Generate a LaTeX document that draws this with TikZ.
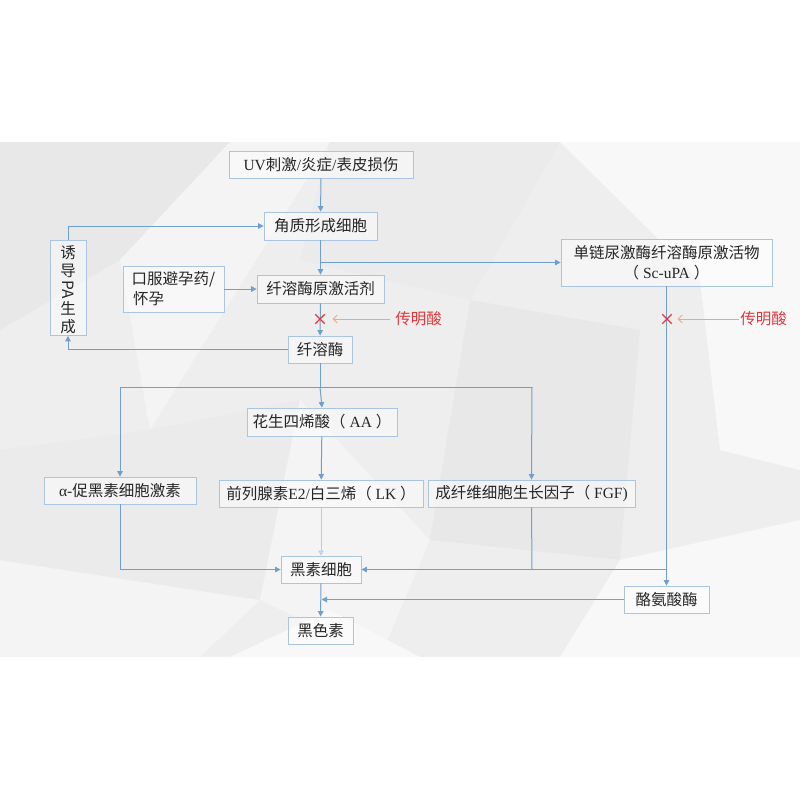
\documentclass[tikz,border=0pt]{standalone}
\usepackage{fontspec}
\setmainfont{Liberation Serif}
\newfontfamily\cjk{Noto Sans CJK SC}
\usetikzlibrary{arrows.meta,shapes.misc}
\definecolor{lnc}{HTML}{6E9FCF}
\definecolor{lnf}{HTML}{B5CDE4}
\definecolor{bxc}{HTML}{A9C5E2}
\definecolor{txc}{HTML}{262626}
\definecolor{redt}{HTML}{E0383C}
\definecolor{orng}{HTML}{F0A878}
\definecolor{bga}{HTML}{EEEEEE}
\definecolor{bgb}{HTML}{E8E8E8}
\definecolor{bgc}{HTML}{F4F4F4}
\definecolor{bgd}{HTML}{F8F8F8}
\definecolor{bge}{HTML}{EBEBEB}
\begin{document}
\begin{tikzpicture}[x=1pt,y=-1pt,
  box/.style={draw=bxc, line width=0.8pt, fill=white, fill opacity=0.45, text opacity=1,
    text=txc, inner sep=0pt, font=\fontsize{15.5}{19}\selectfont, align=center},
  conn/.style={draw=lnc, line width=1pt, -{Triangle[length=5.5pt,width=5.5pt]}},
  line/.style={draw=lnc, line width=1pt},
  faint/.style={draw=lnf, line width=1pt, -{Triangle[open,length=5pt,width=5pt]}},
  inh/.style={draw=orng, line width=0.8pt, -{Straight Barb[length=4pt,width=8pt]}},
  redtxt/.style={text=redt, font=\fontsize{15.5}{19}\selectfont\cjk, inner sep=0pt},
  xmark/.style={cross out, draw=redt, line width=1.3pt, minimum size=8pt, inner sep=0pt},
  vtext/.style={text=txc, inner sep=0pt, font=\fontsize{15.5}{18}\selectfont\cjk, align=center}
]
\useasboundingbox (0,0) rectangle (800,800);
% background
\fill[white] (0,0) rectangle (800,800);
\fill[bga] (0,142) rectangle (800,657);
\fill[bgb] (0,142) -- (230,142) -- (120,260) -- (0,330) -- cycle;
\fill[bgc] (230,142) -- (330,142) -- (150,430) -- (120,260) -- cycle;
\fill[bge] (330,142) -- (560,142) -- (470,300) -- (300,260) -- cycle;
\fill[bgd] (560,142) -- (800,142) -- (800,230) -- (700,280) -- cycle;
\fill[bgb] (470,300) -- (640,330) -- (620,560) -- (430,540) -- cycle;
\fill[bgd] (700,280) -- (800,230) -- (800,470) -- (720,450) -- cycle;
\fill[bgc] (0,560) -- (260,600) -- (200,657) -- (0,657) -- cycle;
\fill[bge] (150,430) -- (300,400) -- (260,600) -- (0,560) -- (0,450) -- cycle;
\fill[bgd] (620,560) -- (800,520) -- (800,657) -- (560,657) -- cycle;
\fill[bgc] (300,400) -- (430,540) -- (380,657) -- (260,600) -- cycle;
\fill[bgd] (230,657) -- (330,610) -- (420,657) -- cycle;

% nodes
\node[box, minimum width=184, minimum height=27] (uv) at (321,164.5)
  {UV{\cjk 刺激}/{\cjk 炎症}/{\cjk 表皮损伤}};
\node[box, minimum width=113, minimum height=28] (kc) at (320.5,226) {\cjk 角质形成细胞};
\node[box, minimum width=36, minimum height=95] (pa) at (68,288) {};
\node[vtext] (paT) at (68,289.5) {诱\\导\\[20pt]生\\成};
\node[vtext, rotate=-90] (paP) at (68.5,290) {PA};
\node[box, minimum width=101, minimum height=46, font=\fontsize{15.5}{20}\selectfont\cjk] (oc) at (173.5,289)
  {口服避孕药/\\怀孕\hspace*{3.2em}};
\node[box, minimum width=127, minimum height=28] (pga) at (320.5,289) {\cjk 纤溶酶原激活剂};
\node[box, minimum width=64, minimum height=27] (pl) at (320,349.5) {\cjk 纤溶酶};
\node[box, minimum width=211, minimum height=47, font=\fontsize{15.5}{20}\selectfont] (scu) at (666.5,262.5)
  {{\cjk 单链尿激酶纤溶酶原激活物}\\{\cjk （} Sc-uPA {\cjk ）}};
\node[box, minimum width=150, minimum height=28] (aa) at (322,422) {{\cjk 花生四烯酸（} AA {\cjk ）}};
\node[box, minimum width=152, minimum height=27] (msh) at (120,490.5) {α-{\cjk 促黑素细胞激素}};
\node[box, minimum width=204, minimum height=27] (pge) at (321,493.5) {{\cjk 前列腺素}E2/{\cjk 白三烯（} LK {\cjk ）}};
\node[box, minimum width=207, minimum height=27] (fgf) at (531.5,493.5) {{\cjk 成纤维细胞生长因子（} FGF)};
\node[box, minimum width=80, minimum height=27] (mc) at (321,569.5) {\cjk 黑素细胞};
\node[box, minimum width=65, minimum height=27] (mel) at (320.5,630.5) {\cjk 黑色素};
\node[box, minimum width=85, minimum height=27] (tyr) at (666.5,599.5) {\cjk 酪氨酸酶};

\node[redtxt] (tx1) at (418.5,319) {传明酸};
\node[redtxt] (tx2) at (763.5,319) {传明酸};

% coordinates
\coordinate (pa1) at (68,226);
\coordinate (br1) at (320,262.5);
\coordinate (x1) at (320,319);
\coordinate (x2) at (667,319);
\coordinate (pl1) at (68,349.5);
\coordinate (d0) at (320,387);
\coordinate (dl) at (120,387);
\coordinate (dr) at (532,387);
\coordinate (ml) at (120,569.5);
\coordinate (mr) at (532,569.5);
\coordinate (sr) at (667,569.5);
\coordinate (ty1) at (321.5,599.5);

% connectors
\draw[conn] (uv) -- (kc);
\draw[conn] (pa.north) -- (pa1) -- (kc.west);
\draw[conn] (kc) -- (pga);
\draw[conn] (br1) -- (scu.west);
\draw[conn] (oc.east) -- (pga.west);
\draw[conn] (pga) -- (pl);
\draw[conn] (pl.west) -- (pl1) -- (pa.south);
\draw[line] (pl.south) -- (d0);
\draw[line] (dl) -- (dr);
\draw[conn] (dl) -- (msh.north);
\draw[conn] (d0) -- (aa.north);
\draw[conn] (dr) -- (fgf.north);
\draw[conn] (aa) -- (pge);
\draw[faint] (pge.south) -- (mc.north);
\draw[conn] (msh.south) -- (ml) -- (mc.west);
\draw[line] (fgf.south) -- (mr);
\draw[conn] (scu.south) -- (tyr.north);
\draw[conn] (sr) -- (mc.east);
\draw[conn] (mc) -- (mel);
\draw[conn] (tyr.west) -- (ty1);

% inhibition marks
\node[xmark] (xm1) at (x1) {};
\node[xmark] (xm2) at (x2) {};
\draw[inh] ([xshift=-5pt]tx1.west) -- ([xshift=8pt]xm1.east);
\draw[inh] ([xshift=-1pt]tx2.west) -- ([xshift=6pt]xm2.east);
\end{tikzpicture}
\end{document}
